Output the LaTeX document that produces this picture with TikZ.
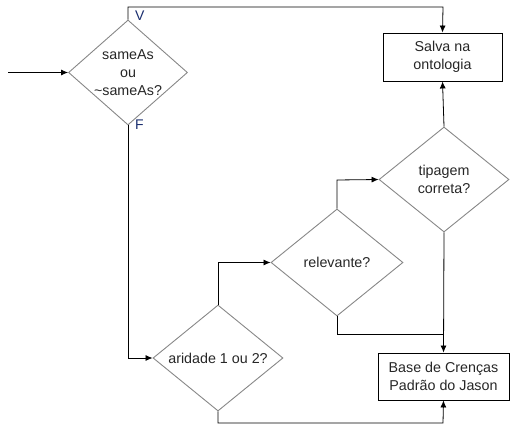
\documentclass[tikz,border=0pt]{standalone}
\usepackage{fontspec}
\setmainfont{Liberation Sans}
\usetikzlibrary{shapes.geometric,arrows.meta}
\definecolor{lblblue}{RGB}{25,45,110}
\definecolor{diagray}{RGB}{135,135,135}
\tikzset{
  dia/.style={diamond,draw=diagray,line width=0.9pt,inner sep=0pt,aspect=1},
  box/.style={rectangle,draw=black,line width=0.9pt,inner sep=0pt},
  txt/.style={align=center,inner sep=0pt,font=\fontsize{14.3}{18}\selectfont,text=black!85},
  lbl/.style={inner sep=0pt,font=\fontsize{14}{16}\selectfont,text=lblblue},
  conn/.style={draw=black,line width=0.8pt,-{Latex[length=7pt,width=6pt]}},
  plain/.style={draw=black,line width=0.8pt}
}
\begin{document}
\begin{tikzpicture}[x=1pt,y=-1pt]
\useasboundingbox (0,0) rectangle (518,435);
% shapes
\node[dia,minimum width=119pt,minimum height=105pt] (d1) at (128,72.5) {};
\node[txt] (t1) at (d1.center) {sameAs\\ou\\\textasciitilde sameAs?};
\node[box,minimum width=119pt,minimum height=48pt] (salva) at (442.5,57) {};
\node[txt] (ts) at (salva.center) {Salva na\\ontologia};
\node[dia,minimum width=130pt,minimum height=105pt] (d2) at (444,179.5) {};
\node[txt] (t2) at (d2.center) {tipagem\\correta?};
\node[dia,minimum width=132pt,minimum height=107pt] (d3) at (337,262.5) {};
\node[txt] (t3) at (d3.center) {relevante?};
\node[dia,minimum width=130pt,minimum height=106pt] (d4) at (218,358) {};
\node[txt] (t4) at (d4.center) {aridade 1 ou 2?};
\node[box,minimum width=131pt,minimum height=47pt] (base) at (443.5,376.5) {};
\node[txt] (tb) at (base.center) {Base de Crenças\\Padrão do Jason};
% labels
\node[lbl,anchor=north west] (lv) at (135,11) {V};
\node[lbl,anchor=north west] (lf) at (135,120) {F};
% helper coordinates
\coordinate (start) at (8,72.5);
\coordinate (c1) at (128,7);
\coordinate (c2) at (443,7);
\coordinate (c3) at (128,358);
\coordinate (c4) at (337,180);
\coordinate (c5) at (218,262.5);
\coordinate (c6) at (337,334);
\coordinate (c7) at (443,334);
\coordinate (c8) at (218,423);
\coordinate (c9) at (443,423);
% connectors
\draw[conn] (start) -- (d1.west);
\draw[conn] (d1.north) -- (c1) -- (c2) -- (salva.north);
\draw[conn] (d2.north) -- (salva.south);
\draw[conn] (d1.south) -- (c3) -- (d4.west);
\draw[conn] (d4.north) -- (c5) -- (d3.west);
\draw[conn] (d3.north) -- (c4) -- (d2.west);
\draw[plain] (d3.south) -- (c6) -- (c7);
\draw[conn] (d2.south) -- (base.north);
\draw[conn] (d4.south) -- (c8) -- (c9) -- (base.south);
\end{tikzpicture}
\end{document}
